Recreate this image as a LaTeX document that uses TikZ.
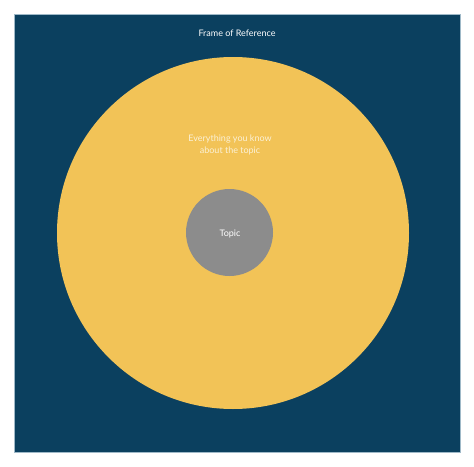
\documentclass[tikz,border=0pt]{standalone}
\usepackage{fontspec}
\setmainfont{Lato}
\definecolor{bgblue}{HTML}{0B405F}
\definecolor{frameedge}{HTML}{9FB9C8}
\definecolor{sun}{HTML}{F2C357}
\definecolor{topicgray}{HTML}{8C8C8C}
\definecolor{cream}{HTML}{FBF1D6}
\begin{document}
\begin{tikzpicture}[x=1pt,y=-1pt,
  lbl/.style={font=\fontsize{9}{12}\selectfont, align=center, inner sep=0pt}]
\useasboundingbox (0,0) rectangle (474,466);
\node[draw=frameedge, line width=0.6pt, fill=bgblue, minimum width=446pt, minimum height=438pt, inner sep=0pt] (frame) at (237,233) {};
\node[circle, fill=sun, minimum size=352pt, inner sep=0pt] (know) at (233,233) {};
\node[circle, fill=topicgray, minimum size=87pt, inner sep=0pt] (topic) at (229.5,232.5) {};
\node[lbl, text=white] (title) at (237,33) {Frame of Reference};
\node[lbl, text=cream] (knowlbl) at (230,144.5) {Everything you know\\about the topic};
\node[lbl, text=white] (topiclbl) at (230,234) {Topic};
\end{tikzpicture}
\end{document}
